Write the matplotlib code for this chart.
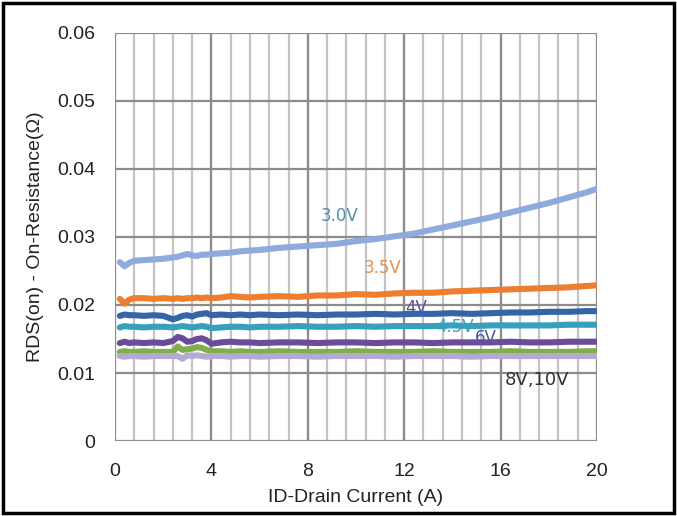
import matplotlib
matplotlib.use("Agg")
import matplotlib.pyplot as plt
from matplotlib.patches import Rectangle

# ---- data ----
current = [0.2, 0.4, 0.6, 0.8, 1.2, 1.6, 2.0, 2.4, 2.6, 2.8, 3.0, 3.2, 3.4, 3.6, 3.8,
           4.0, 4.4, 4.8, 5.2, 5.6, 6.0, 6.8, 7.6, 8.4, 9.2, 10.0, 10.8, 11.6, 12.4,
           13.2, 14.0, 14.8, 15.6, 16.4, 17.2, 18.0, 18.8, 19.6, 20.0]

r_3v0 = [0.0263, 0.0257, 0.0262, 0.0265, 0.0266, 0.0267, 0.0268, 0.0270, 0.0271, 0.0273,
         0.0275, 0.0273, 0.0272, 0.0274, 0.0274, 0.0275, 0.0276, 0.0277, 0.0279, 0.0280,
         0.0281, 0.0284, 0.0286, 0.0288, 0.0290, 0.0294, 0.0297, 0.0301, 0.0305, 0.0311,
         0.0317, 0.0323, 0.0329, 0.0336, 0.0343, 0.0350, 0.0358, 0.0366, 0.0371]
r_3v5 = [0.0209, 0.0202, 0.0208, 0.0210, 0.0210, 0.0209, 0.0210, 0.0209, 0.0210, 0.0209,
         0.0210, 0.0210, 0.0211, 0.0210, 0.0211, 0.0210, 0.0211, 0.0213, 0.0212, 0.0211,
         0.0212, 0.0213, 0.0212, 0.0214, 0.0214, 0.0216, 0.0215, 0.0217, 0.0218, 0.0218,
         0.0220, 0.0221, 0.0222, 0.0223, 0.0224, 0.0225, 0.0226, 0.0228, 0.0229]
r_4v0 = [0.0184, 0.0186, 0.0185, 0.0185, 0.0184, 0.0185, 0.0184, 0.0179, 0.0181, 0.0184,
         0.0185, 0.0183, 0.0186, 0.0187, 0.0188, 0.0185, 0.0186, 0.0185, 0.0186, 0.0185,
         0.0186, 0.0185, 0.0186, 0.0185, 0.0186, 0.0186, 0.0187, 0.0186, 0.0187, 0.0187,
         0.0188, 0.0187, 0.0188, 0.0189, 0.0189, 0.0190, 0.0190, 0.0191, 0.0191]
r_4v5 = [0.0167, 0.0169, 0.0168, 0.0168, 0.0167, 0.0168, 0.0168, 0.0167, 0.0168, 0.0169,
         0.0168, 0.0167, 0.0168, 0.0169, 0.0168, 0.0166, 0.0167, 0.0168, 0.0168, 0.0167,
         0.0168, 0.0168, 0.0169, 0.0168, 0.0168, 0.0169, 0.0168, 0.0169, 0.0169, 0.0169,
         0.0170, 0.0169, 0.0170, 0.0170, 0.0170, 0.0170, 0.0171, 0.0171, 0.0171]
r_6v0 = [0.0144, 0.0146, 0.0144, 0.0145, 0.0144, 0.0145, 0.0144, 0.0147, 0.0153, 0.0151,
         0.0146, 0.0147, 0.0150, 0.0151, 0.0148, 0.0143, 0.0145, 0.0146, 0.0145, 0.0145,
         0.0144, 0.0145, 0.0145, 0.0144, 0.0145, 0.0145, 0.0144, 0.0145, 0.0145, 0.0144,
         0.0145, 0.0145, 0.0145, 0.0146, 0.0145, 0.0145, 0.0146, 0.0146, 0.0146]
r_8v0 = [0.0131, 0.0132, 0.0131, 0.0131, 0.0132, 0.0131, 0.0131, 0.0131, 0.0139, 0.0134,
         0.0135, 0.0136, 0.0138, 0.0137, 0.0134, 0.0132, 0.0132, 0.0131, 0.0132, 0.0131,
         0.0131, 0.0132, 0.0131, 0.0131, 0.0131, 0.0132, 0.0131, 0.0131, 0.0131, 0.0132,
         0.0131, 0.0131, 0.0131, 0.0132, 0.0131, 0.0131, 0.0131, 0.0132, 0.0132]
r_10v = [0.0125, 0.0124, 0.0125, 0.0125, 0.0124, 0.0125, 0.0125, 0.0125, 0.0125, 0.0121,
         0.0126, 0.0125, 0.0126, 0.0125, 0.0124, 0.0125, 0.0125, 0.0124, 0.0125, 0.0125,
         0.0124, 0.0125, 0.0125, 0.0124, 0.0125, 0.0125, 0.0125, 0.0124, 0.0125, 0.0125,
         0.0125, 0.0124, 0.0125, 0.0125, 0.0125, 0.0125, 0.0125, 0.0125, 0.0125]

series = [r_3v0, r_3v5, r_4v0, r_4v5, r_6v0, r_8v0, r_10v]
line_colors = ["#8FAADC", "#ED7D31", "#3564A8", "#36A0BD", "#6B4C9A", "#80AE4D", "#B4AAD0"]

label_texts = ["3.0V", "3.5V", "4V", "4.5V", "6V", "8V,10V"]
label_x = [9.3, 11.1, 12.5, 14.1, 15.4, 17.5]
label_y = [0.0331, 0.0255, 0.0196, 0.0168, 0.0151, 0.0089]
label_sizes = [12, 12, 12, 12, 12, 13]
label_colors = ["#4F8FAE", "#E39155", "#5B5590", "#3FA3B5", "#45599A", "#333333"]

x_ticks = [0, 4, 8, 12, 16, 20]
y_ticks = [0, 0.01, 0.02, 0.03, 0.04, 0.05, 0.06]
y_tick_labels = ["0", "0.01", "0.02", "0.03", "0.04", "0.05", "0.06"]
minor_x = [i * 0.8 for i in range(26)]

plt.rcParams['font.family'] = ['Liberation Sans', 'DejaVu Sans']

fig = plt.figure(figsize=(6.77, 5.16), dpi=100)
ax = fig.add_axes([115 / 677, 1 - 441 / 516, 482 / 677, 408 / 516])

ax.set_xlim(0, 20)
ax.set_ylim(0, 0.06)

# grid
for xv in minor_x:
    ax.axvline(xv, color="#C4C4C4", lw=1.6, zorder=0)
for xv in x_ticks:
    ax.axvline(xv, color="#8C8C8C", lw=1.6, zorder=0.5)
for yv in y_ticks:
    ax.axhline(yv, color="#8C8C8C", lw=1.6, zorder=0.5)

for s in ax.spines.values():
    s.set_visible(False)

# labels under lines
for t, lx, ly, c, fs in zip(label_texts, label_x, label_y, label_colors, label_sizes):
    ax.text(lx, ly, t, color=c, fontsize=fs, ha="center", va="center",
            family=["DejaVu Sans"], zorder=1)

for vals, c in zip(series, line_colors):
    ax.plot(current, vals, color=c, lw=4.4, solid_capstyle="round",
            solid_joinstyle="round", zorder=2)

ax.set_xticks(x_ticks)
ax.set_xticklabels([str(v) for v in x_ticks])
ax.set_yticks(y_ticks)
ax.set_yticklabels(y_tick_labels)
ax.tick_params(length=0, labelsize=14, colors="#222222")
ax.tick_params(axis="x", pad=16)
ax.tick_params(axis="y", pad=14)

ax.set_xlabel("ID-Drain Current (A)", fontsize=14, color="#222222", labelpad=6)
ax.set_ylabel("RDS(on) - On-Resistance(Ω)", fontsize=14, color="#222222", labelpad=10)

fig.patches.append(Rectangle((0.004, 0.006), 0.992, 0.988, transform=fig.transFigure,
                             fill=False, edgecolor="black", lw=2.5))

fig.savefig("out.png", dpi=100)
